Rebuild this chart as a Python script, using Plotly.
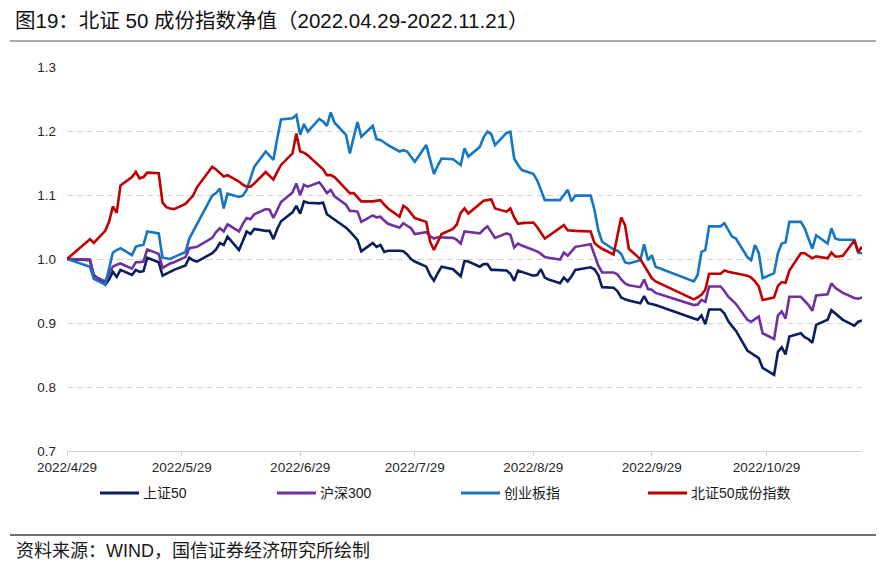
import plotly.graph_objects as go

# ---------------- data ----------------
dates = [
    "2022-04-29",
    "2022-05-05", "2022-05-06", "2022-05-09", "2022-05-10", "2022-05-11", "2022-05-12", "2022-05-13",
    "2022-05-16", "2022-05-17", "2022-05-18", "2022-05-19", "2022-05-20", "2022-05-23", "2022-05-24",
    "2022-05-25", "2022-05-26", "2022-05-27", "2022-05-30", "2022-05-31",
    "2022-06-01", "2022-06-02", "2022-06-06", "2022-06-07", "2022-06-08", "2022-06-09", "2022-06-10",
    "2022-06-13", "2022-06-14", "2022-06-15", "2022-06-16", "2022-06-17", "2022-06-20", "2022-06-21",
    "2022-06-22", "2022-06-23", "2022-06-24", "2022-06-27", "2022-06-28", "2022-06-29", "2022-06-30",
    "2022-07-01", "2022-07-04", "2022-07-05", "2022-07-06", "2022-07-07", "2022-07-08", "2022-07-11",
    "2022-07-12", "2022-07-13", "2022-07-14", "2022-07-15", "2022-07-18", "2022-07-19", "2022-07-20",
    "2022-07-21", "2022-07-22", "2022-07-25", "2022-07-26", "2022-07-27", "2022-07-28", "2022-07-29",
    "2022-08-01", "2022-08-02", "2022-08-03", "2022-08-04", "2022-08-05", "2022-08-08", "2022-08-09",
    "2022-08-10", "2022-08-11", "2022-08-12", "2022-08-15", "2022-08-16", "2022-08-17", "2022-08-18",
    "2022-08-19", "2022-08-22", "2022-08-23", "2022-08-24", "2022-08-25", "2022-08-26", "2022-08-29",
    "2022-08-30", "2022-08-31",
    "2022-09-01", "2022-09-02", "2022-09-05", "2022-09-06", "2022-09-07", "2022-09-08", "2022-09-09",
    "2022-09-13", "2022-09-14", "2022-09-15", "2022-09-16", "2022-09-19", "2022-09-20", "2022-09-21",
    "2022-09-22", "2022-09-23", "2022-09-26", "2022-09-27", "2022-09-28", "2022-09-29", "2022-09-30",
    "2022-10-10", "2022-10-11", "2022-10-12", "2022-10-13", "2022-10-14", "2022-10-17", "2022-10-18",
    "2022-10-19", "2022-10-20", "2022-10-21", "2022-10-24", "2022-10-25", "2022-10-26", "2022-10-27",
    "2022-10-28", "2022-10-31",
    "2022-11-01", "2022-11-02", "2022-11-03", "2022-11-04", "2022-11-07", "2022-11-08", "2022-11-09",
    "2022-11-10", "2022-11-11", "2022-11-14", "2022-11-15", "2022-11-16", "2022-11-17", "2022-11-18",
    "2022-11-21", "2022-11-22", "2022-11-23",
]

sz50 = [  # 上证50
    1.000,
    0.998, 0.975, 0.960, 0.968, 0.980, 0.972, 0.983, 0.975, 0.983, 0.980, 0.981, 1.002, 0.995, 0.974,
    0.977, 0.979, 0.983, 0.990, 1.002,
    0.998, 0.996, 1.009, 1.015, 1.025, 1.022, 1.035, 1.014, 1.028, 1.043, 1.039, 1.047, 1.044, 1.044,
    1.031, 1.047, 1.059, 1.073, 1.083, 1.071, 1.090,
    1.088, 1.087, 1.088, 1.070, 1.066, 1.062, 1.049, 1.043, 1.036, 1.030, 1.012, 1.025, 1.019, 1.022,
    1.011, 1.013, 1.013, 1.012, 1.007, 1.000, 0.996,
    0.988, 0.975, 0.966, 0.978, 0.988, 0.984, 0.979, 0.973, 0.997, 0.996, 0.988, 0.992, 0.992, 0.983,
    0.983, 0.982, 0.977, 0.966, 0.982, 0.980, 0.974, 0.975, 0.984,
    0.971, 0.968, 0.962, 0.971, 0.965, 0.973, 0.983, 0.987, 0.984, 0.975, 0.956, 0.955, 0.950, 0.940,
    0.937, 0.935, 0.931, 0.942, 0.931, 0.930, 0.928,
    0.907, 0.905, 0.912, 0.898, 0.921, 0.921, 0.915, 0.903, 0.895, 0.888, 0.857, 0.853, 0.849, 0.845,
    0.830, 0.819,
    0.855, 0.862, 0.851, 0.879, 0.884, 0.878, 0.875, 0.869, 0.897, 0.905, 0.920, 0.915, 0.910, 0.905,
    0.896, 0.902, 0.904,
]

hs300 = [  # 沪深300
    1.000,
    0.999, 0.973, 0.965, 0.977, 0.988, 0.991, 0.993, 0.985, 0.995, 0.995, 0.996, 1.015, 1.008, 0.986,
    0.990, 0.993, 0.995, 1.003, 1.017,
    1.018, 1.019, 1.033, 1.042, 1.048, 1.043, 1.054, 1.043, 1.055, 1.064, 1.062, 1.070, 1.078, 1.077,
    1.064, 1.078, 1.089, 1.104, 1.118, 1.100, 1.116,
    1.113, 1.120, 1.112, 1.103, 1.108, 1.098, 1.085, 1.075, 1.075, 1.074, 1.058, 1.068, 1.065, 1.066,
    1.060, 1.055, 1.049, 1.056, 1.052, 1.048, 1.039,
    1.042, 1.036, 1.032, 1.034, 1.034, 1.033, 1.030, 1.024, 1.043, 1.042, 1.040, 1.046, 1.051, 1.042,
    1.033, 1.040, 1.038, 1.018, 1.024, 1.021, 1.014, 1.012, 1.008,
    1.003, 1.002, 0.999, 1.010, 1.005, 1.012, 1.019, 1.023, 1.006, 0.990, 0.979, 0.979, 0.976, 0.968,
    0.962, 0.959, 0.956, 0.968, 0.953, 0.952, 0.947,
    0.928, 0.929, 0.936, 0.933, 0.957, 0.957, 0.950, 0.941, 0.936, 0.930, 0.905, 0.902, 0.906, 0.910,
    0.884, 0.875,
    0.912, 0.918, 0.907, 0.941, 0.941, 0.935, 0.928, 0.919, 0.943, 0.945, 0.962, 0.955, 0.951, 0.947,
    0.939, 0.938, 0.940,
]

cyb = [  # 创业板指
    1.000,
    0.988, 0.969, 0.960, 0.985, 1.010, 1.014, 1.017, 1.006, 1.019, 1.021, 1.022, 1.043, 1.040, 1.002,
    1.001, 1.000, 1.003, 1.011, 1.032,
    1.043, 1.056, 1.099, 1.103, 1.110, 1.079, 1.102, 1.097, 1.099, 1.108, 1.125, 1.144, 1.168, 1.162,
    1.155, 1.188, 1.218, 1.220, 1.225, 1.194, 1.211,
    1.199, 1.219, 1.215, 1.208, 1.229, 1.213, 1.194, 1.165, 1.190, 1.214, 1.191, 1.208, 1.187, 1.186,
    1.182, 1.178, 1.168, 1.170, 1.168, 1.160, 1.152,
    1.178, 1.155, 1.133, 1.146, 1.157, 1.156, 1.152, 1.147, 1.173, 1.160, 1.175, 1.190, 1.199, 1.195,
    1.178, 1.197, 1.199, 1.157, 1.147, 1.139, 1.133, 1.123, 1.108,
    1.092, 1.092, 1.092, 1.100, 1.108, 1.090, 1.099, 1.099, 1.077, 1.045, 1.027, 1.015, 1.013, 1.008,
    0.995, 0.993, 0.998, 1.023, 0.998, 1.006, 0.988,
    0.965, 0.975, 1.011, 1.014, 1.051, 1.051, 1.056, 1.046, 1.035, 1.032, 1.003, 0.998, 1.022, 1.009,
    0.970, 0.978,
    1.009, 1.024, 1.026, 1.058, 1.058, 1.048, 1.032, 1.016, 1.037, 1.024, 1.048, 1.032, 1.030, 1.030,
    1.030, 1.010, 1.009,
]

bz50 = [  # 北证50成份指数
    1.000,
    1.031, 1.025, 1.044, 1.058, 1.082, 1.072, 1.115, 1.128, 1.136, 1.126, 1.128, 1.135, 1.134, 1.088,
    1.081, 1.079, 1.078, 1.086, 1.092,
    1.099, 1.112, 1.144, 1.140, 1.135, 1.129, 1.131, 1.121, 1.116, 1.113, 1.113, 1.118, 1.136, 1.130,
    1.124, 1.136, 1.147, 1.165, 1.196, 1.168, 1.166,
    1.162, 1.146, 1.140, 1.131, 1.131, 1.128, 1.108, 1.103, 1.103, 1.097, 1.090, 1.090, 1.091, 1.092,
    1.085, 1.079, 1.066, 1.083, 1.079, 1.072, 1.064,
    1.058, 1.027, 1.014, 1.028, 1.039, 1.047, 1.054, 1.072, 1.079, 1.071, 1.085, 1.091, 1.092, 1.093,
    1.079, 1.074, 1.079, 1.065, 1.055, 1.056, 1.057, 1.050, 1.041,
    1.032, 1.036, 1.048, 1.053, 1.045, 1.044, 1.044, 1.043, 1.025, 1.020, 1.016, 1.007, 1.036, 1.065,
    1.053, 1.016, 1.000, 0.990, 0.978, 0.970, 0.965,
    0.937, 0.940, 0.944, 0.952, 0.977, 0.977, 0.982, 0.980, 0.979, 0.978, 0.974, 0.971, 0.965, 0.957,
    0.936, 0.940,
    0.958, 0.964, 0.963, 0.982, 1.009, 1.009, 1.005, 1.001, 1.004, 1.001, 1.010, 1.004, 1.004, 1.005,
    1.029, 1.011, 1.019,
]

series_names = ["上证50", "沪深300", "创业板指", "北证50成份指数"]
series_colors = ["#0b1f5e", "#7030a0", "#1576c2", "#c00000"]

tick_dates = ["2022-04-29", "2022-05-29", "2022-06-29", "2022-07-29",
              "2022-08-29", "2022-09-29", "2022-10-29"]
tick_labels = ["2022/4/29", "2022/5/29", "2022/6/29", "2022/7/29",
               "2022/8/29", "2022/9/29", "2022/10/29"]

title_text = "图19：北证 50 成份指数净值（2022.04.29-2022.11.21）"
source_text = "资料来源：WIND，国信证券经济研究所绘制"

# ---------------- layout helpers ----------------
# The page body has an 8px margin, so the figure is drawn 8px smaller and
# all positions below are given in window (screen) pixels.
OFF = 8
W, H = 885 - OFF, 568 - OFF
PLOT_L, PLOT_R, PLOT_T, PLOT_B = 67, 862, 67, 451     # screen px
ML, MT = PLOT_L - OFF, PLOT_T - OFF
PW, PH = PLOT_R - PLOT_L, PLOT_B - PLOT_T
MR, MB = W - ML - PW, H - MT - PH


def px_x(px):
    return (px - PLOT_L) / PW


def px_y(py):
    return (PLOT_B - py) / PH


FONT = "Liberation Sans, Arial, Noto Sans CJK SC, sans-serif"

fig = go.Figure()
all_series = [sz50, hs300, cyb, bz50]
for name, vals, color in zip(series_names, all_series, series_colors):
    fig.add_trace(go.Scatter(
        x=dates, y=vals, mode="lines", name=name,
        line=dict(color=color, width=2.6), showlegend=False,
    ))

shapes = [
    dict(type="line", xref="paper", yref="paper", x0=px_x(10), x1=px_x(876),
         y0=px_y(41), y1=px_y(41), line=dict(color="#8c8c8c", width=1.5)),
    dict(type="line", xref="paper", yref="paper", x0=px_x(10), x1=px_x(876),
         y0=px_y(535), y1=px_y(535), line=dict(color="#404040", width=1.5)),
]
annotations = [
    dict(text=source_text, xref="paper", yref="paper", x=px_x(14), y=px_y(551),
         xanchor="left", yanchor="middle", showarrow=False,
         font=dict(family=FONT, size=18, color="#1a1a1a")),
]

# manual legend
leg_line_x = [100, 277, 461, 648]
leg_y = 493
for name, color, lx in zip(series_names, series_colors, leg_line_x):
    shapes.append(dict(type="line", xref="paper", yref="paper",
                       x0=px_x(lx), x1=px_x(lx + 39), y0=px_y(leg_y), y1=px_y(leg_y),
                       line=dict(color=color, width=3)))
    annotations.append(dict(text=name, xref="paper", yref="paper",
                            x=px_x(lx + 41), y=px_y(leg_y), xanchor="left", yanchor="middle",
                            showarrow=False, font=dict(family=FONT, size=14, color="#1a1a1a")))

fig.update_layout(
    width=W, height=H,
    margin=dict(l=ML, r=MR, t=MT, b=MB, pad=0),
    paper_bgcolor="white", plot_bgcolor="white",
    font=dict(family=FONT, size=13, color="#262626"),
    title=dict(text=title_text, xref="container", yref="container",
               x=(15 - OFF) / W, y=1 - (21 - OFF) / H, xanchor="left", yanchor="middle",
               font=dict(family=FONT, size=20.5, color="#111111")),
    xaxis=dict(type="date", range=["2022-04-29", "2022-11-23"],
               tickvals=tick_dates, ticktext=tick_labels,
               showgrid=False, zeroline=False, showline=True,
               linecolor="#d0d0d0", linewidth=1,
               ticks="outside", ticklen=4, tickcolor="#d0d0d0",
               tickfont=dict(size=13.5, color="#262626")),
    yaxis=dict(range=[0.7, 1.3], dtick=0.1, tick0=0.7, tickformat=".1f",
               showgrid=True, gridcolor="#d3d3d3", gridwidth=1, griddash="6px,4px",
               zeroline=False, showline=False, ticks="",
               ticklabelstandoff=10,
               tickfont=dict(size=13.5, color="#262626")),
    shapes=shapes, annotations=annotations,
)

fig.write_html("out.html")
